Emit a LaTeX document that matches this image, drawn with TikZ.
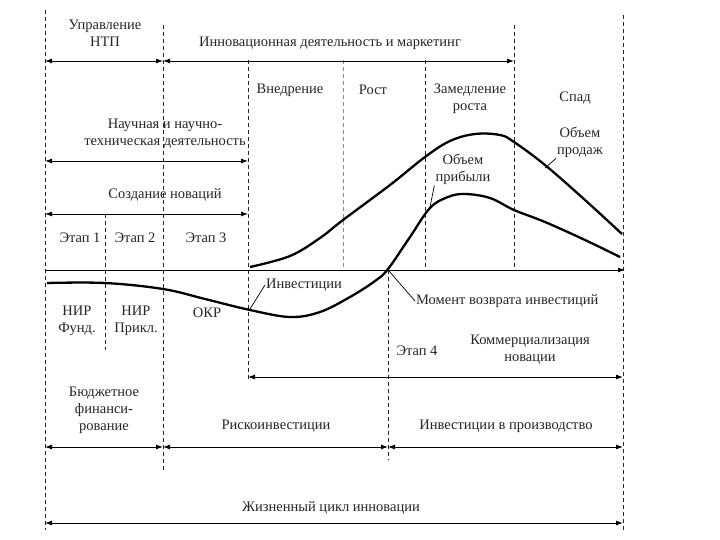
\documentclass[tikz,border=0pt]{standalone}
\usepackage{fontspec}
\setmainfont{Liberation Serif}
\usetikzlibrary{arrows.meta}
\begin{document}
\begin{tikzpicture}[x=1pt,y=-1pt,
  vline/.style={line width=0.8pt, dash pattern=on 4pt off 3pt, black!85},
  gline/.style={line width=0.7pt, dash pattern=on 4pt off 3pt, black!45},
  txt/.style={font=\fontsize{14.5}{17}\selectfont, align=center, text=black!85, inner sep=1pt},
  dbl/.style={{Latex[length=7pt,width=5pt]}-{Latex[length=7pt,width=5pt]}, line width=0.9pt},
  axisline/.style={-{Latex[length=7pt,width=5pt]}, line width=1pt},
  curve/.style={line width=2.3pt, line join=round},
  lead/.style={line width=0.7pt}]
\useasboundingbox (0,0) rectangle (720,540);
\fill[white] (0,0) rectangle (720,540);
% vertical dashed lines
\draw[vline] (45,10) -- (45,530);
\draw[vline] (163,25) -- (163,470);
\draw[vline] (105,214) -- (105,350);
\draw[vline] (248,60) -- (248,380);
\draw[gline] (343,60) -- (343,270);
\draw[vline] (425,60) -- (425,270);
\draw[vline] (514,25) -- (514,270);
\draw[vline] (623,15) -- (623,530);
\draw[vline] (388,270) -- (388,460);
% coordinates
\coordinate (a0) at (45,61); \coordinate (a1) at (163,61); \coordinate (a2) at (514,61);
\coordinate (b0) at (45,161); \coordinate (b1) at (248,161);
\coordinate (c0) at (45,214); \coordinate (c1) at (248,214);
\coordinate (d0) at (248,377); \coordinate (d1) at (623,377);
\coordinate (e0) at (45,447); \coordinate (e1) at (163,447); \coordinate (e2) at (388,447); \coordinate (e3) at (623,447);
\coordinate (f0) at (45,523); \coordinate (f1) at (623,523);
\coordinate (x0) at (45,270); \coordinate (x1) at (625,270);
% arrows
\draw[dbl] (a0) -- (a1);
\draw[dbl] (a1) -- (a2);
\draw[dbl] (b0) -- (b1);
\draw[dbl] (c0) -- (c1);
\draw[dbl] (d0) -- (d1);
\draw[dbl] (e0) -- (e1);
\draw[dbl] (e1) -- (e2);
\draw[dbl] (e2) -- (e3);
\draw[dbl] (f0) -- (f1);
\draw[axisline] (x0) -- (x1);
% curves
\draw[curve] plot[smooth, tension=0.6] coordinates {(250,267) (290,256) (320,238) (343,220) (390,185) (425,157) (450,141) (475,134) (500,135) (514,142) (545,165) (585,200) (622,234)};
\draw[curve] plot[smooth, tension=0.6] coordinates {(47,283) (105,283) (163,289) (205,299) (250,310) (290,317) (320,312) (350,297) (375,281) (388,269) (410,237) (430,208) (448,197) (465,194) (490,198) (514,210) (545,222) (585,240) (620,257)};
% texts
\node[txt] (upr) at (105,33) {Управление\\НТП};
\node[txt] (inn) at (330,43) {Инновационная деятельность и маркетинг};
\node[txt] (vned) at (290,90) {Внедрение};
\node[txt] (rost) at (373,90) {Рост};
\node[txt] (zam) at (470,99) {Замедление\\роста};
\node[txt] (spad) at (575,98) {Спад};
\node[txt] (nauch) at (165,134) {Научная и научно-\\техническая деятельность};
\node[txt] (sozd) at (165,195) {Создание новаций};
\node[txt] (et1) at (80,238) {Этап 1};
\node[txt] (et2) at (135,238) {Этап 2};
\node[txt] (et3) at (206,238) {Этап 3};
\node[txt] (nir1) at (77,321) {НИР\\Фунд.};
\node[txt] (nir2) at (136,321) {НИР\\Прикл.};
\node[txt] (okr) at (207,313) {ОКР};
\node[txt, anchor=west] (inv) at (265,285) {Инвестиции};
\node[txt, anchor=west] (mom) at (415,301) {Момент возврата инвестиций};
\node[txt] (et4) at (417,351) {Этап 4};
\node[txt] (komm) at (530,350) {Коммерциализация\\новации};
\node[txt] (budg) at (104,410) {Бюджетное\\финанси-\\рование};
\node[txt] (risk) at (276,426) {Рискоинвестиции};
\node[txt] (invp) at (506,426) {Инвестиции в производство};
\node[txt] (zhc) at (331,508) {Жизненный цикл инновации};
\node[txt] (prod) at (580,142) {Объем\\продаж};
\node[txt] (prib) at (463,169) {Объем\\прибыли};
% leaders
\coordinate (lp) at (545,168);
\coordinate (lb) at (430,207);
\coordinate (li) at (250,309);
\coordinate (lm) at (389,271);
\draw[lead] (lp) -- (prod.south west);
\draw[lead] (lb) -- (prib.south west);
\draw[lead] (li) -- (inv.west);
\draw[lead] (lm) -- (mom.west);
\end{tikzpicture}
\end{document}
